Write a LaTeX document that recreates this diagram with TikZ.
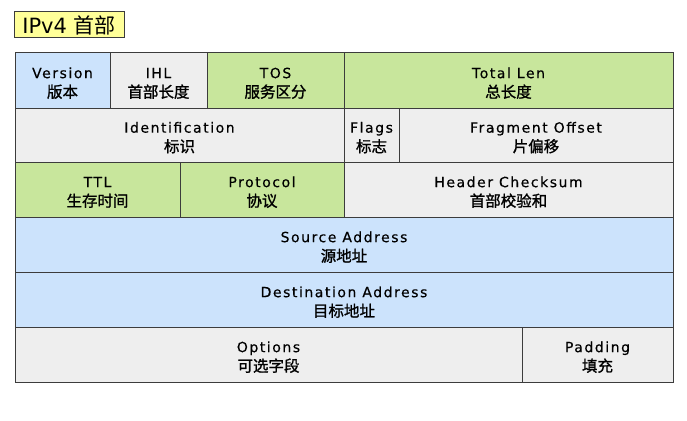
\documentclass[tikz,border=0pt]{standalone}
\usepackage{fontspec}
\setmainfont[LetterSpace=11,FakeBold=0.4]{DejaVu Sans}
\newfontfamily\cjk[FakeBold=1.2]{Noto Sans CJK SC}
\newfontfamily\cjkt{Noto Sans CJK SC}
\newfontfamily\titlefont{DejaVu Sans}
\definecolor{linec}{RGB}{60,60,60}
\definecolor{fblue}{RGB}{204,227,252}
\definecolor{fgreen}{RGB}{200,230,156}
\definecolor{fgray}{RGB}{238,238,238}
\definecolor{fyellow}{RGB}{255,255,153}
\newcommand\fieldbox[7]{\node[field,fill=#2,minimum width=#5pt,minimum height=#6pt] (#1) at (#3,#4) {\rule{0pt}{16pt}#7};}
\newcommand\zh[1]{{\cjk\fontsize{15.5}{19}\selectfont #1}}
\begin{document}
\begin{tikzpicture}[x=1pt,y=-1pt,
  field/.style={draw=linec, line width=1pt, anchor=north west, align=center,
    inner sep=0pt, outer sep=0pt, font=\fontsize{14}{19.5}\selectfont},
  titlebox/.style={draw=linec, line width=1pt, fill=fyellow, anchor=north west,
    minimum width=110pt, minimum height=26pt, inner sep=0pt, outer sep=0pt,
    font=\titlefont\fontsize{21}{22}\selectfont}]
\useasboundingbox[fill=white] (0,0) rectangle (687,420);
\node[titlebox] (title) at (14,12) {IPv4 {\cjkt 首部}};
% row 1
\fieldbox{ver}{fblue}{15}{53}{95}{55}{Version\\\zh{版本}}
\fieldbox{ihl}{fgray}{110}{53}{97}{55}{IHL\\\zh{首部长度}}
\fieldbox{tos}{fgreen}{207}{53}{137}{55}{TOS\\\zh{服务区分}}
\fieldbox{tot}{fgreen}{344}{53}{329}{55}{Total Len\\\zh{总长度}}
% row 2
\fieldbox{ident}{fgray}{15}{108}{329}{54}{Identification\\\zh{标识}}
\fieldbox{flags}{fgray}{344}{108}{55}{54}{Flags\\\zh{标志}}
\fieldbox{frag}{fgray}{399}{108}{274}{54}{Fragment Offset\\\zh{片偏移}}
% row 3
\fieldbox{ttl}{fgreen}{15}{162}{165}{55}{TTL\\\zh{生存时间}}
\fieldbox{proto}{fgreen}{180}{162}{164}{55}{Protocol\\\zh{协议}}
\fieldbox{chk}{fgray}{344}{162}{329}{55}{Header Checksum\\\zh{首部校验和}}
% row 4, 5
\fieldbox{src}{fblue}{15}{217}{658}{55}{Source Address\\\zh{源地址}}
\fieldbox{dst}{fblue}{15}{272}{658}{55}{Destination Address\\\zh{目标地址}}
% row 6
\fieldbox{opt}{fgray}{15}{327}{507}{55}{Options\\\zh{可选字段}}
\fieldbox{pad}{fgray}{522}{327}{151}{55}{Padding\\\zh{填充}}
\end{tikzpicture}
\end{document}
